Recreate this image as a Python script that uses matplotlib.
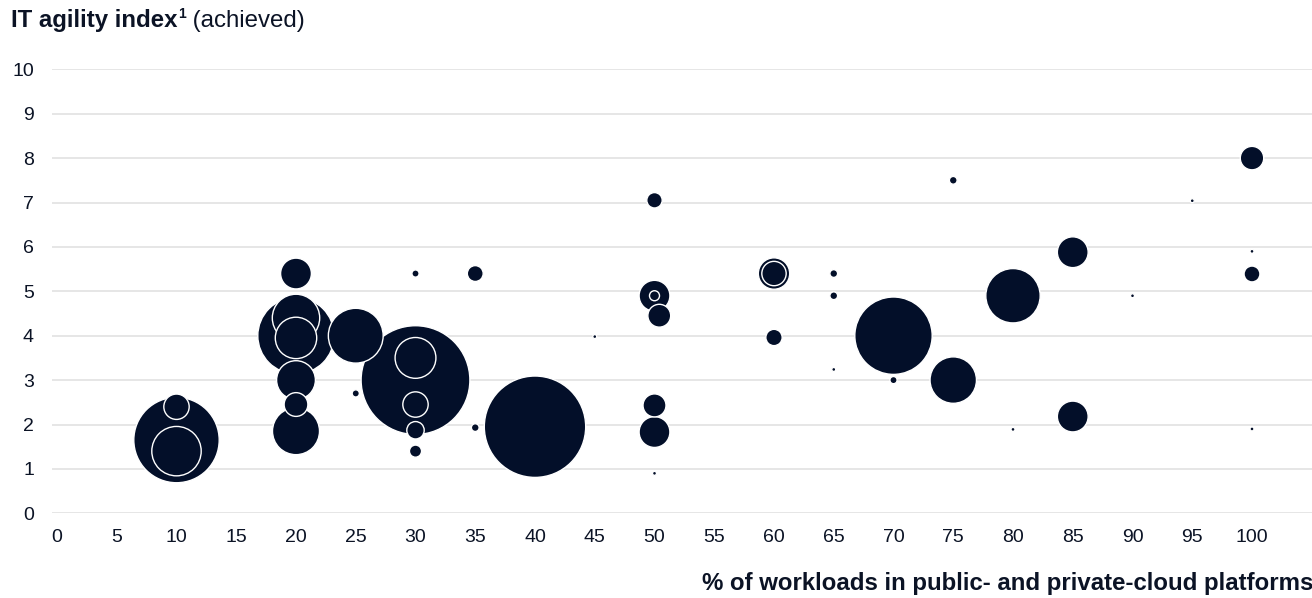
import numpy as np
import matplotlib
matplotlib.use("Agg")
import matplotlib.pyplot as plt

# --- data --------------------------------------------------------------
# x: % of workloads in cloud, y: IT agility index, weight: bubble size (area units)
x_vals = [10, 10, 10,
          20, 20, 20, 20, 20, 20, 20,
          25, 25,
          30, 30, 30, 30, 30, 30,
          35, 35,
          40, 45,
          50, 50, 50, 50.4, 50, 50, 50,
          60, 60, 60, 65, 65, 65,
          70, 70, 75, 75,
          80, 80, 85, 85, 90, 95,
          100, 100, 100, 100]
y_vals = [1.65, 1.4, 2.4,
          4.0, 4.4, 3.95, 5.4, 3.0, 2.45, 1.85,
          4.0, 2.7,
          3.0, 3.5, 2.45, 1.87, 1.4, 5.4,
          5.4, 1.93,
          1.95, 3.98,
          7.05, 4.9, 4.9, 4.45, 2.43, 1.83, 0.9,
          5.4, 5.4, 3.96, 5.4, 4.9, 3.24,
          4.0, 3.0, 3.0, 7.5,
          4.9, 1.89, 5.88, 2.18, 4.9, 7.04,
          8.0, 5.9, 5.39, 1.9]
weight = [1044, 341, 85,
          832, 313, 237, 128, 207, 74, 308,
          422, 5,
          1706, 230, 85, 38, 17, 5,
          31, 6,
          1479, 1,
          29, 128, 11, 68, 69, 128, 1,
          133, 78, 33, 6, 6, 1,
          854, 5, 300, 6,
          415, 1, 128, 128, 1, 1,
          72, 1, 31, 1]

y_ticks = list(range(0, 11))
x_ticks = list(range(0, 101, 5))

title_bold = "IT agility index"
title_sup = "1"
title_rest = " (achieved)"
x_label = "% of workloads in public- and private-cloud platforms"

NAVY = "#030f29"
TEXT = "#0b1325"
GRID = "#e6e6e6"
FONT = "Liberation Sans"

W, H = 1312, 598
DPI = 100
PX = 72.0 / DPI  # points per pixel

plt.rcParams["font.family"] = [FONT, "DejaVu Sans"]

fig = plt.figure(figsize=(W / DPI, H / DPI), dpi=DPI)

# axes placement in pixels
x0_px, px_per_x = 57.0, 11.95
ax_left, ax_right = 52.0, 1312.0
ax_top, ax_bottom = 69.3, 513.3
ax = fig.add_axes([ax_left / W, 1 - ax_bottom / H,
                   (ax_right - ax_left) / W, (ax_bottom - ax_top) / H])
ax.set_xlim((ax_left - x0_px) / px_per_x, (ax_right - x0_px) / px_per_x)
ax.set_ylim(0, 10)

# grid
for yv in y_ticks:
    ax.axhline(yv, color=GRID, lw=1.4, zorder=0)

# bubbles: biggest first so smaller sit on top with a white outline
lw = 1.0
order = np.argsort(weight)[::-1]
xs = np.array(x_vals)[order]
ys = np.array(y_vals)[order]
r_px = 1.3 * np.sqrt(np.array(weight, dtype=float)[order])
sizes = (2 * r_px * PX + lw) ** 2
ax.scatter(xs, ys, s=sizes, c=NAVY, edgecolors="white", linewidths=lw,
           zorder=3, clip_on=False)

for s in ax.spines.values():
    s.set_visible(False)
ax.set_yticks(y_ticks)
ax.set_xticks(x_ticks)
ax.tick_params(axis="both", length=0, labelsize=14, labelcolor=TEXT)
ax.tick_params(axis="y", pad=13)
ax.tick_params(axis="x", pad=11)

# title with superscript
t1 = fig.text(11 / W, 1 - 27 / H, title_bold, fontsize=17.3, fontweight="bold",
              color=TEXT, ha="left", va="baseline")
fig.canvas.draw()
r = fig.canvas.get_renderer()
bb = t1.get_window_extent(r)
t2 = fig.text((bb.x1 + 1) / W, 1 - 18 / H, title_sup, fontsize=10,
              fontweight="bold", color=TEXT, ha="left", va="baseline")
bb2 = t2.get_window_extent(r)
fig.text(bb2.x1 / W, 1 - 27 / H, title_rest, fontsize=17.3, color=TEXT,
         ha="left", va="baseline")

fig.text(702 / W, 1 - 590 / H, x_label, fontsize=17.3, fontweight="bold",
         color=TEXT, ha="left", va="baseline")

fig.savefig("out.png", dpi=DPI)
